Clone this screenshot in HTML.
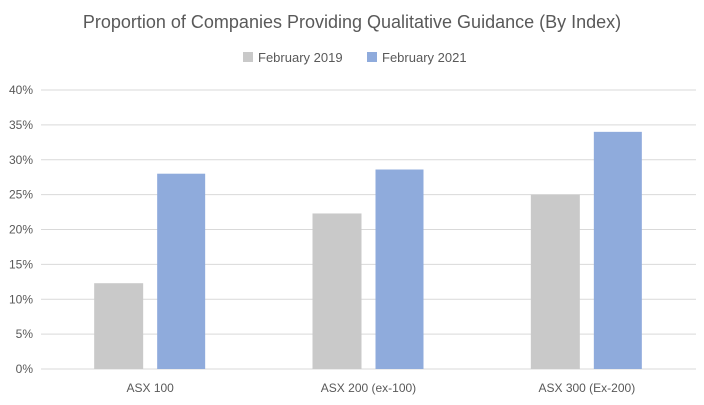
<!DOCTYPE html>
<html><head><meta charset="utf-8"><style>
body{margin:0;background:#fff;width:704px;height:400px;overflow:hidden;font-family:"Liberation Sans",sans-serif}
</style></head><body>
<svg id="chart" width="704" height="400">
<text x="352" y="28" text-anchor="middle" font-size="18" fill="#595959">Proportion  of Companies Providing Qualitative Guidance (By Index)</text>
<g>
<rect x="243" y="52" width="10" height="10" fill="#c9c9c9"/>
<text x="258" y="62" font-size="13" fill="#595959">February 2019</text>
<rect x="367" y="52" width="10" height="10" fill="#8fabdc"/>
<text x="382" y="62" font-size="13" fill="#595959">February 2021</text>
</g>
<g id="grid"></g><g id="bars"></g><g id="labels"></g>
</svg>
<script>
const categories=["ASX 100","ASX 200 (ex-100)","ASX 300 (Ex-200)"];
const feb2019=[12.3,22.3,25.0];
const feb2021=[28.0,28.6,34.0];
const ticks=[0,5,10,15,20,25,30,35,40];
const ns="http://www.w3.org/2000/svg";
const L=41,R=696,T=90,B=369,maxV=40;
const y=v=>B-(v/maxV)*(B-T);
const band=(R-L)/categories.length;
const cx=i=>L+band*(i+0.5);
function mk(tag,attrs,parent){const e=document.createElementNS(ns,tag);for(const k in attrs)e.setAttribute(k,attrs[k]);parent.appendChild(e);return e;}
const grid=document.getElementById('grid'),bars=document.getElementById('bars'),labels=document.getElementById('labels');
ticks.forEach(t=>{
 const ln=mk('line',{x1:L,x2:R,y1:y(t),y2:y(t),stroke:'#d9d9d9','stroke-width':1},grid);
 
 
 const tx=mk('text',{x:33,y:y(t)+4,'text-anchor':'end','font-size':12,fill:'#595959'},labels);
 tx.textContent=t+'%';
 
 
});
categories.forEach((c,i)=>{
 const b1=mk('rect',{x:cx(i)-56,y:y(feb2019[i]),width:49,height:B-y(feb2019[i]),fill:'#c9c9c9'},bars);
 
 
 const b2=mk('rect',{x:cx(i)+7,y:y(feb2021[i]),width:48,height:B-y(feb2021[i]),fill:'#8fabdc'},bars);
 
 
 const tx=mk('text',{x:cx(i),y:392,'text-anchor':'middle','font-size':12,fill:'#595959'},labels);
 tx.textContent=c;
 
 
});
</script>
</body></html>
